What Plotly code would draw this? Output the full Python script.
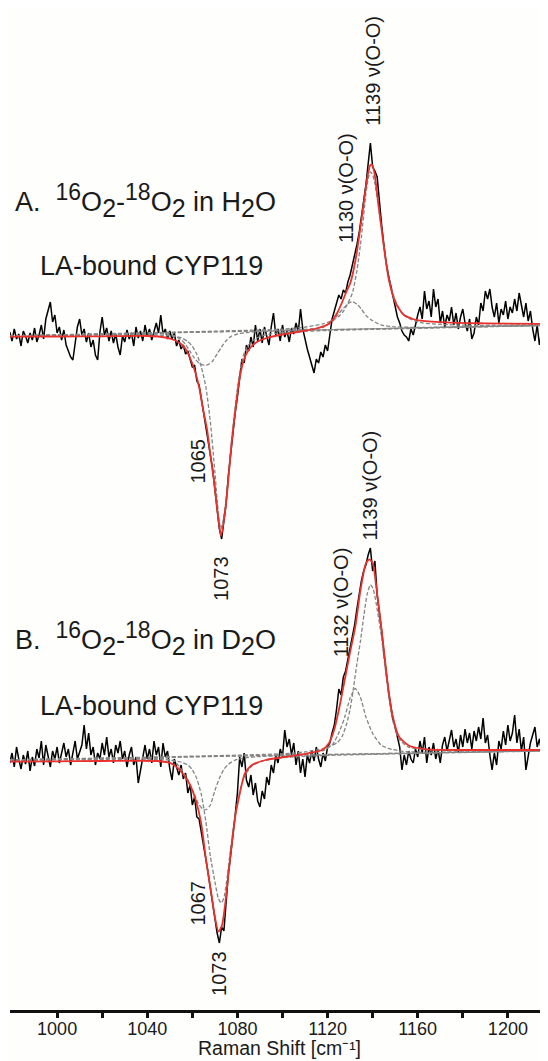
import numpy as np
import plotly.graph_objects as go

# ---------------- data (relative Raman intensity, a.u.) ----------------
raman_shift = np.arange(979, 1219)  # cm-1, 1 cm-1 sampling

# Spectrum A: 16O2-18O2 difference in H2O (black, noisy)
spec_A = [
    5, -4, 8, -2, 3, -9, 6, 1, -6, 4,
    -3, 9, -5, 2, 12, -2, 18, 26, 35, 15,
    22, 4, 10, -3, 7, -8, -14, -20, -23, -6,
    10, 18, 2, 8, -5, 4, -10, -3, -18, -23,
    5, 20, 2, 9, -4, 6, -6, 3, -10, -18,
    1, -5, 7, -2, 4, -9, 10, -1, 6, -4,
    12, 1, 8, -3, 5, 14, 4, 22, 3, 8,
    -2, 6, -2, 4, -9, -3, -12, -8, -17, -14,
    -22, -30, -28, -44, -48, -62, -72, -88, -100, -118,
    -132, -152, -170, -192, -202, -184, -166, -138, -116, -94,
    -76, -60, -40, -22, -26, -8, -14, 0, -10, 12,
    -4, 8, -6, 10, 1, -8, 10, 24, 2, 8,
    -4, 12, 0, 6, -5, 9, 3, 14, 5, 28,
    8, -4, -12, -20, -28, -36, -22, -26, -15, -20,
    -8, -14, 2, 18, 26, 35, 42, 38, 47, 44,
    55, 62, 72, 80, 92, 104, 118, 136, 152, 170,
    194, 170, 166, 160, 134, 112, 92, 74, 62, 52,
    40, 30, 20, 14, 6, 2, 0, -4, 8, 2,
    14, 22, 30, 18, 46, 28, 36, 20, 48, 30,
    38, 14, 26, 10, 22, 16, 30, 12, 24, 8,
    20, 28, 14, 6, 18, -2, 4, 20, 12, 34,
    26, 46, 38, 48, 30, 20, 34, 14, 28, 22,
    36, 18, 30, 24, 38, 26, 44, 30, 20, 34,
    16, 26, 8, -4, 12, -8, 4, 18, 2, 10,
]

# Spectrum B: 16O2-18O2 difference in D2O (black, noisy)
spec_B = [
    -2, 8, -6, 14, 2, -8, 6, -3, 10, -10,
    4, -5, 12, 3, 20, -4, 16, 6, -6, 10,
    2, 14, -2, 8, 18, 4, 12, -4, 8, 20,
    2, 10, 16, 36, 12, 28, 6, 14, -4, 8,
    2, 18, 6, 24, 4, 12, -2, 16, 8, 20,
    2, 10, -6, 6, 14, -4, 4, -22, -8, 6,
    16, 2, 12, -2, 20, 6, 14, -6, 18, 4,
    10, -8, -19, 2, -6, -14, -4, -18, -12, -32,
    -24, -44, -36, -56, -58, -70, -84, -98, -112, -128,
    -142, -156, -172, -182, -166, -170, -136, -112, -94, -70,
    -54, -32, 4, -6, 8, -19, -26, -14, -34, -22,
    -40, -46, -30, -38, -16, -24, -4, -12, 6, -2,
    12, 4, 31, 14, 22, 6, 18, -4, 10, -12,
    2, -16, 6, -2, 10, 0, 14, 2, -6, 8,
    0, 14, 18, 28, 36, 52, 72, 66, 84, 90,
    102, 110, 122, 136, 152, 168, 180, 190, 196, 206,
    213, 190, 200, 166, 150, 130, 108, 88, 70, 56,
    42, 34, 22, 14, -9, 6, -4, 10, 2, -2,
    12, 4, 20, 8, 24, -2, 14, 6, 18, 2,
    12, -2, 16, 24, 10, 20, 31, 14, 22, 8,
    26, 14, 32, 18, 28, 12, 30, 20, 34, 22,
    43, 18, 26, 6, -9, 8, -4, 20, 12, 30,
    16, 36, 20, 28, 46, 18, 32, 10, 24, -9,
    4, 18, 26, 34, 14, 22, 8, 26, 12, 20,
]

# Fitted envelope (red), spectrum A
fitA_x = [979, 1000, 1020, 1040, 1048, 1052, 1055, 1057, 1059, 1061, 1063, 1065,
          1066.5, 1068, 1069.5, 1071, 1072.7, 1074.5, 1076, 1077.5, 1079, 1080.5,
          1082, 1083.5, 1086, 1089, 1093, 1100, 1108, 1115, 1120, 1122.5, 1124.5,
          1126.5, 1128.3, 1130.1, 1132.4, 1134.6, 1136.8, 1138, 1139, 1139.8,
          1140.8, 1142.7, 1145, 1147.2, 1150.2, 1153.9, 1157.9, 1161.3, 1174.6,
          1190, 1218]
fitA_y = [0.3, 0.5, 0.7, 1, -0.5, -3, -7, -12, -21, -33, -50, -75,
          -92, -118, -142, -172, -199, -175, -142, -104, -75, -48,
          -30, -19, -10, -4.5, -1, 2.5, 5.5, 8.5, 12.5, 18, 25,
          35, 45, 54, 77, 110, 147, 164, 172, 172,
          164, 130, 90, 57, 34, 22, 18, 16.3, 14.3,
          13.7, 13]

# Fitted envelope (red), spectrum B
fitB_x = [979, 1000, 1020, 1044.4, 1050.6, 1053.7, 1056.8, 1059.2, 1061.5, 1063.8,
          1066.2, 1068.5, 1070.1, 1071.6, 1073.2, 1074.7, 1076.3, 1077.8, 1079.4,
          1080.9, 1081.7, 1083.3, 1086.4, 1092.6, 1101.9, 1111.3, 1117.5, 1120.6,
          1122.9, 1125.3, 1127.6, 1129.9, 1132.3, 1134.6, 1137, 1138.5, 1140.1,
          1141.6, 1144, 1146.3, 1148.6, 1151.7, 1156.4, 1164.2, 1176.6, 1218]
fitB_y = [-0.7, -0.3, 0, 0, -2.3, -7.3, -15.7, -25, -39, -60.7,
          -100.7, -134, -157.3, -170.7, -164, -140.7, -107.3, -77.3, -50.7,
          -34, -25.7, -12.3, -4, 1, 4.3, 7.7, 11, 17.7,
          31, 54.3, 81, 107.7, 134.3, 171, 197.7, 201.7, 197.7,
          174.3, 131, 84.3, 47.7, 24.3, 15, 11.7, 11, 11]

# Linear baselines (grey dashed)
baseA_x = [979, 1218]
baseA_y = [1, 11.7]
baseB_x = [979, 1218]
baseB_y = [1, 10.3]

# Band components (grey dashed), spectrum A
cA1065_x = [979, 1040, 1048, 1052, 1055, 1057, 1059, 1061, 1063, 1065, 1066, 1067,
            1069, 1071, 1073, 1075, 1077, 1080, 1085, 1095, 1218]
cA1065_y = [1, 3.2, 3.1, 1.3, -2.6, -7.5, -14.4, -21.3, -26.2, -28.1, -28.1, -27.6,
            -24, -16.9, -9.8, -3.7, 0.4, 3, 4.7, 5.9, 11.7]
cA1073_x = [979, 1010, 1040, 1050, 1055, 1058, 1060, 1062, 1064, 1066, 1068, 1070,
            1071, 1072, 1072.7, 1073.5, 1075, 1077, 1079, 1081, 1083, 1086, 1090,
            1095, 1105, 1120, 1218]
cA1073_y = [0.5, 1.6, 2.2, 1.2, -0.6, -4.5, -9.4, -17.3, -30.2, -50, -85, -135,
            -163, -185, -192, -185, -163, -113, -70, -36, -16, -5, 0.5,
            3.2, 5.1, 6.5, 11.6]
cA1130_x = [979, 1100, 1110, 1118, 1122, 1125, 1127, 1129, 1131, 1133, 1135, 1137,
            1140, 1144, 1150, 1160, 1218]
cA1130_y = [1, 6.9, 7.7, 9.7, 14.9, 23.5, 28.6, 33.2, 35.3, 32.9, 28, 21.6,
            16.2, 11.9, 10.2, 9.6, 11.7]
cA1139_x = [979, 1040, 1100, 1110, 1118, 1122, 1125, 1127, 1129, 1131, 1133, 1135,
            1137, 1138, 1139, 1140, 1141, 1143, 1145, 1147, 1150, 1153, 1157,
            1162, 1170, 1185, 1218]
cA1139_y = [1.2, 4.2, 7.9, 9.9, 13.2, 16.4, 20.5, 25.6, 33.7, 43.8, 65.9, 100,
            143.1, 158.2, 165.2, 162.3, 153.3, 123.4, 90.5, 60.6, 36.7, 23.8, 17.5,
            14.2, 12.6, 11.7, 12.4]

# Band components (grey dashed), spectrum B
cB1067_x = [979, 1040, 1048, 1052, 1055, 1058, 1061, 1063, 1065, 1066.2, 1068, 1070,
            1072, 1074, 1076, 1079, 1083, 1090, 1100, 1218]
cB1067_y = [1, 2.9, 2.2, -0.2, -8, -18.9, -33.8, -44, -48.5, -48.5, -44, -29.5,
            -17.4, -8.3, -3.2, 0.9, 3, 4.5, 5.4, 10.3]
cB1073_x = [979, 1010, 1040, 1050, 1055, 1058, 1060, 1062, 1064, 1066, 1068, 1070,
            1071.5, 1072.8, 1074, 1075.5, 1077, 1079, 1081, 1083, 1086, 1090, 1095,
            1105, 1120, 1218]
cB1073_y = [0.8, 1.2, 1.9, 0.8, -1, -3.9, -8.8, -17.8, -33.7, -60.6, -95.5, -120.5,
            -137, -142, -137, -115.3, -87.2, -55.1, -31, -16, -5.9, -0.7, 2,
            4.1, 5.6, 10.1]
cB1132_x = [979, 1100, 1110, 1118, 1122.2, 1125.3, 1127.6, 1130, 1132.3, 1134.5, 1137,
            1140.1, 1144, 1148.6, 1155, 1170, 1218]
cB1132_y = [1, 6.2, 7.3, 10.4, 16.6, 29.7, 43.8, 62.9, 72.5, 64.1, 44.2,
            27.3, 15.5, 11.6, 9.3, 8.9, 10.3]
cB1139_x = [979, 1040, 1100, 1110, 1118, 1122, 1124.5, 1126.5, 1128.4, 1130, 1131.5,
            1133, 1134.6, 1136.2, 1137.6, 1139, 1140.2, 1141.6, 1144, 1146.3, 1148.6,
            1151.7, 1156, 1164, 1180, 1218]
cB1139_y = [1.2, 3.8, 7.2, 9.1, 12.4, 15.6, 18.7, 24.8, 36.8, 51.9, 73,
            97, 120.1, 147.1, 167.2, 176.2, 172.3, 157.3, 122.5, 79.6, 43.6,
            21.8, 13.9, 11.2, 10.3, 10.9]

# tick labels
major_ticks = [1000, 1040, 1080, 1120, 1160, 1200]
minor_ticks = [1020, 1060, 1100, 1140, 1180]

# ---------------- layout constants ----------------
# The page body keeps an 8 px margin, so the figure is 8 px smaller and
# positions below are given in page pixels of the 548x1061 window.
PAGE_W, PAGE_H = 548, 1061
PAD = 8
AXIS_PAGE_Y = 1010                 # x-axis line (page px)
PLOT_H = AXIS_PAGE_Y - PAD         # plot-area height == y-range span
OFFSET_A = 673                     # vertical offsets of the stacked spectra
OFFSET_B = 249

BLACK = "#000000"
RED = "#e8302c"
GREY = "#858585"
TXT = "#1a1a1a"
FONT = "Liberation Sans, Arial, Helvetica, sans-serif"
NARROW = "Liberation Sans Narrow, Arial Narrow, Liberation Sans, Arial, sans-serif"


def shift(vals, off):
    return [v + off for v in vals]


def paper_y(page_px):
    return (AXIS_PAGE_Y - page_px) / PLOT_H


fig = go.Figure()

# noisy spectra
for ys, off in ((spec_A, OFFSET_A), (spec_B, OFFSET_B)):
    fig.add_trace(go.Scatter(x=raman_shift, y=shift(ys, off), mode="lines",
                             line=dict(color=BLACK, width=1.5), hoverinfo="skip",
                             showlegend=False))

# dashed components
dashed = [
    (baseA_x, baseA_y, OFFSET_A), (cA1065_x, cA1065_y, OFFSET_A),
    (cA1073_x, cA1073_y, OFFSET_A), (cA1130_x, cA1130_y, OFFSET_A),
    (cA1139_x, cA1139_y, OFFSET_A),
    (baseB_x, baseB_y, OFFSET_B), (cB1067_x, cB1067_y, OFFSET_B),
    (cB1073_x, cB1073_y, OFFSET_B), (cB1132_x, cB1132_y, OFFSET_B),
    (cB1139_x, cB1139_y, OFFSET_B),
]
for xs, ys, off in dashed:
    fig.add_trace(go.Scatter(x=xs, y=shift(ys, off), mode="lines",
                             line=dict(color=GREY, width=1.3, dash="4px,2px",
                                       shape="spline", smoothing=0.6),
                             hoverinfo="skip", showlegend=False))

# fitted envelopes
for xs, ys, off in ((fitA_x, fitA_y, OFFSET_A), (fitB_x, fitB_y, OFFSET_B)):
    fig.add_trace(go.Scatter(x=xs, y=shift(ys, off), mode="lines",
                             line=dict(color=RED, width=1.8, shape="spline",
                                       smoothing=0.6),
                             hoverinfo="skip", showlegend=False))

# ---------------- text ----------------
def label(x, ypx, text, size=27, angle=0, xanchor="left", yanchor="middle"):
    fig.add_annotation(x=x, y=paper_y(ypx), xref="x", yref="paper",
                       text=text, showarrow=False,
                       textangle=angle, xanchor=xanchor, yanchor=yanchor,
                       font=dict(family=FONT, size=size, color=TXT))

sup = '<sup><span style="font-size:23px">{}</span></sup>'
sub = '<sub><span style="font-size:25px">{}</span></sub>'
titleA = ("A.&nbsp; " + sup.format("16") + "O" + sub.format("2") + "-" + sup.format("18")
          + "O" + sub.format("2") + " in H" + sub.format("2") + "O")
titleB = ("B.&nbsp; " + sup.format("16") + "O" + sub.format("2") + "-" + sup.format("18")
          + "O" + sub.format("2") + " in D" + sub.format("2") + "O")

label(980.3, 201, titleA)
label(991.6, 266, "LA-bound CYP119")
label(980.6, 638, titleB)
label(991.6, 706, "LA-bound CYP119")

rot = [
    (1140.0, 71, "1139 \u03bd(O-O)"),
    (1127.9, 187.5, "1130 \u03bd(O-O)"),
    (1062.3, 461, "1065"),
    (1072.7, 578, "1073"),
    (1126.1, 602, "1132 \u03bd(O-O)"),
    (1139.0, 485, "1139 \u03bd(O-O)"),
    (1062.3, 903, "1067"),
    (1071.6, 973.5, "1073"),
]
for x, ypx, t in rot:
    label(x, ypx, t, size=20, angle=-90, xanchor="center")

# axis title, anchored at its bottom on the window's lower edge
label(1098.8, PAGE_H, "Raman Shift [cm\u207b\u00b9]", size=19.5,
      xanchor="center", yanchor="bottom")

fig.update_layout(
    width=PAGE_W - PAD, height=PAGE_H - PAD,
    margin=dict(l=10 - PAD, r=0, t=0, b=PAGE_H - AXIS_PAGE_Y),
    paper_bgcolor="#fefefd", plot_bgcolor="#fefefd",
    showlegend=False,
    xaxis=dict(range=[979.1, 1217.8], showgrid=False, zeroline=False,
               showline=True, linecolor="#111111", linewidth=3,
               ticks="outside", ticklen=5, tickwidth=2.5, tickcolor="#111111",
               tickvals=major_ticks, ticktext=[str(v) for v in major_ticks],
               tickfont=dict(family=NARROW, size=18, color=TXT),
               ticklabelstandoff=-5,
               minor=dict(tickvals=minor_ticks, ticks="outside", ticklen=5,
                          tickwidth=2.5, tickcolor="#111111", showgrid=False),
               fixedrange=True),
    yaxis=dict(range=[0, PLOT_H], visible=False, fixedrange=True),
)

fig.write_html("out.html")
